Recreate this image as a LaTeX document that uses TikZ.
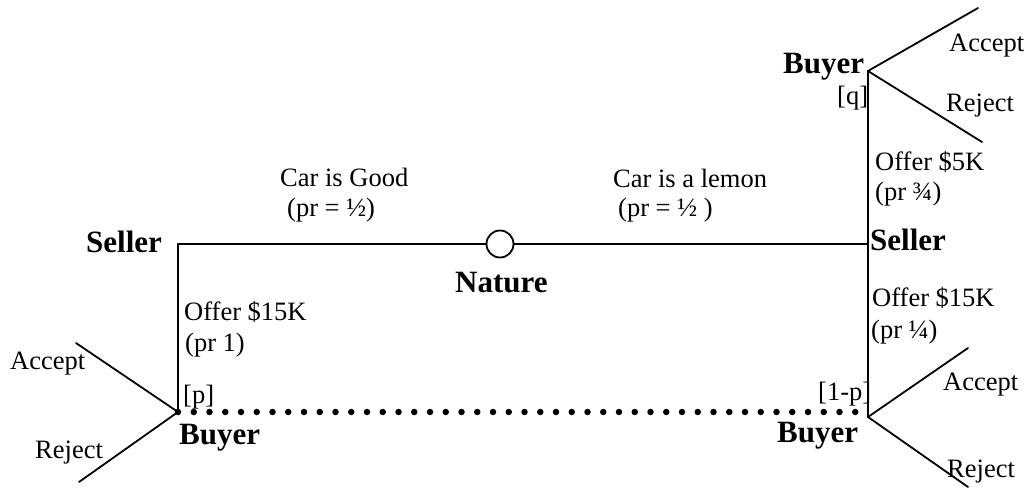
\documentclass[tikz,border=0pt]{standalone}
\usepackage{fontspec}
\setmainfont{Liberation Serif}
\begin{document}
\begin{tikzpicture}[x=1pt,y=-1pt,
  edge/.style={line width=1.8pt,line cap=round},
  lbl/.style={inner sep=0pt,anchor=base west,font=\fontsize{26.5}{30}\selectfont},
  bold/.style={inner sep=0pt,anchor=base west,font=\fontsize{31}{34}\selectfont\bfseries},
  info/.style={line width=6.5pt,line cap=round,dash pattern=on 0pt off 15.75pt},
  chance/.style={circle,draw,fill=white,line width=1.8pt,minimum size=27pt,inner sep=0pt}]
\useasboundingbox (0,0) rectangle (1026,489);
% decision points
\coordinate (sl) at (178,244);
\coordinate (sr) at (868,244);
\coordinate (bt) at (868,71);
\coordinate (bl) at (178,412);
\coordinate (br) at (868,417);
\coordinate (brd) at (868,412);
% leaves
\coordinate (btA) at (978,8);
\coordinate (btR) at (982,142);
\coordinate (blA) at (76,343);
\coordinate (blR) at (79,482);
\coordinate (brA) at (968,348);
\coordinate (brR) at (968,487);
% edges
\draw[edge] (sl) -- (sr);
\draw[edge] (sl) -- (bl);
\draw[edge] (sr) -- (bt);
\draw[edge] (sr) -- (br);
\draw[edge] (bt) -- (btA);
\draw[edge] (bt) -- (btR);
\draw[edge] (bl) -- (blA);
\draw[edge] (bl) -- (blR);
\draw[edge] (br) -- (brA);
\draw[edge] (br) -- (brR);
\draw[info] (bl) -- (brd);
\node[chance] (nat) at (500,244) {};
% labels
\node[bold] (tsl) at (86,253) {Seller};
\node[bold] (tsr) at (870,251) {Seller};
\node[bold] (tnat) at (455,292) {Nature};
\node[bold] (tbl) at (179,444) {Buyer};
\node[bold] (tbr) at (777,442) {Buyer};
\node[bold] (tbt) at (783,74) {Buyer};
\node[lbl] (g1) at (280,187) {Car is Good};
\node[lbl] (g2) at (287,217) {(pr = ½)};
\node[lbl] (l1) at (613,188) {Car is a lemon};
\node[lbl] (l2) at (618,217) {(pr = ½ )};
\node[lbl] (o1) at (184,320) {Offer \$15K};
\node[lbl] (o1p) at (185,352) {(pr 1)};
\node[lbl] (o2) at (875,171) {Offer \$5K};
\node[lbl] (o2p) at (875,201) {(pr ¾)};
\node[lbl] (o3) at (872,306) {Offer \$15K};
\node[lbl] (o3p) at (871,338) {(pr ¼)};
\node[lbl] (p) at (183,403) {[p]};
\node[lbl] (q) at (837,105) {[q]};
\node[lbl] (pp) at (818,400) {[1-p]};
\node[lbl] (a1) at (10,369) {Accept};
\node[lbl] (r1) at (35,458) {Reject};
\node[lbl] (a2) at (949,52) {Accept};
\node[lbl] (r2) at (946,112) {Reject};
\node[lbl] (a3) at (943,390) {Accept};
\node[lbl] (r3) at (947,477) {Reject};
\end{tikzpicture}
\end{document}
